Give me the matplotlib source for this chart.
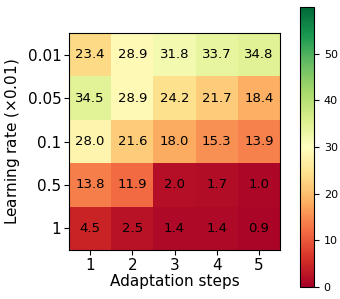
import matplotlib
matplotlib.use('Agg')
import matplotlib.pyplot as plt
import numpy as np

steps = ['1', '2', '3', '4', '5']
rates = ['0.01', '0.05', '0.1', '0.5', '1']
vals = np.array([
    [23.4, 28.9, 31.8, 33.7, 34.8],
    [34.5, 28.9, 24.2, 21.7, 18.4],
    [28.0, 21.6, 18.0, 15.3, 13.9],
    [13.8, 11.9, 2.0, 1.7, 1.0],
    [4.5, 2.5, 1.4, 1.4, 0.9],
])

fig = plt.figure(figsize=(3.4, 2.99), dpi=100)
ax = fig.add_axes([69/340, 1 - 250/299, 211/340, 217/299])
cax = fig.add_axes([300/340, 1 - 287/299, 14/340, 280/299])

im = ax.imshow(vals, cmap='RdYlGn', vmin=0, vmax=60, aspect='auto')
for i in range(len(rates)):
    for j in range(len(steps)):
        ax.text(j, i, '%.1f' % vals[i, j], ha='center', va='center', fontsize=9.5)

ax.set_xticks(range(len(steps)))
ax.set_xticklabels(steps)
ax.set_yticks(range(len(rates)))
ax.set_yticklabels(rates)
ax.tick_params(axis='both', labelsize=11, pad=2)
ax.set_xlabel('Adaptation steps', fontsize=11, labelpad=1)
ax.set_ylabel('Learning rate ($\\times$0.01)', fontsize=11, labelpad=4)

cb = fig.colorbar(im, cax=cax, ticks=[0, 10, 20, 30, 40, 50])
cb.ax.tick_params(labelsize=8)

fig.savefig('out.png', dpi=100)
